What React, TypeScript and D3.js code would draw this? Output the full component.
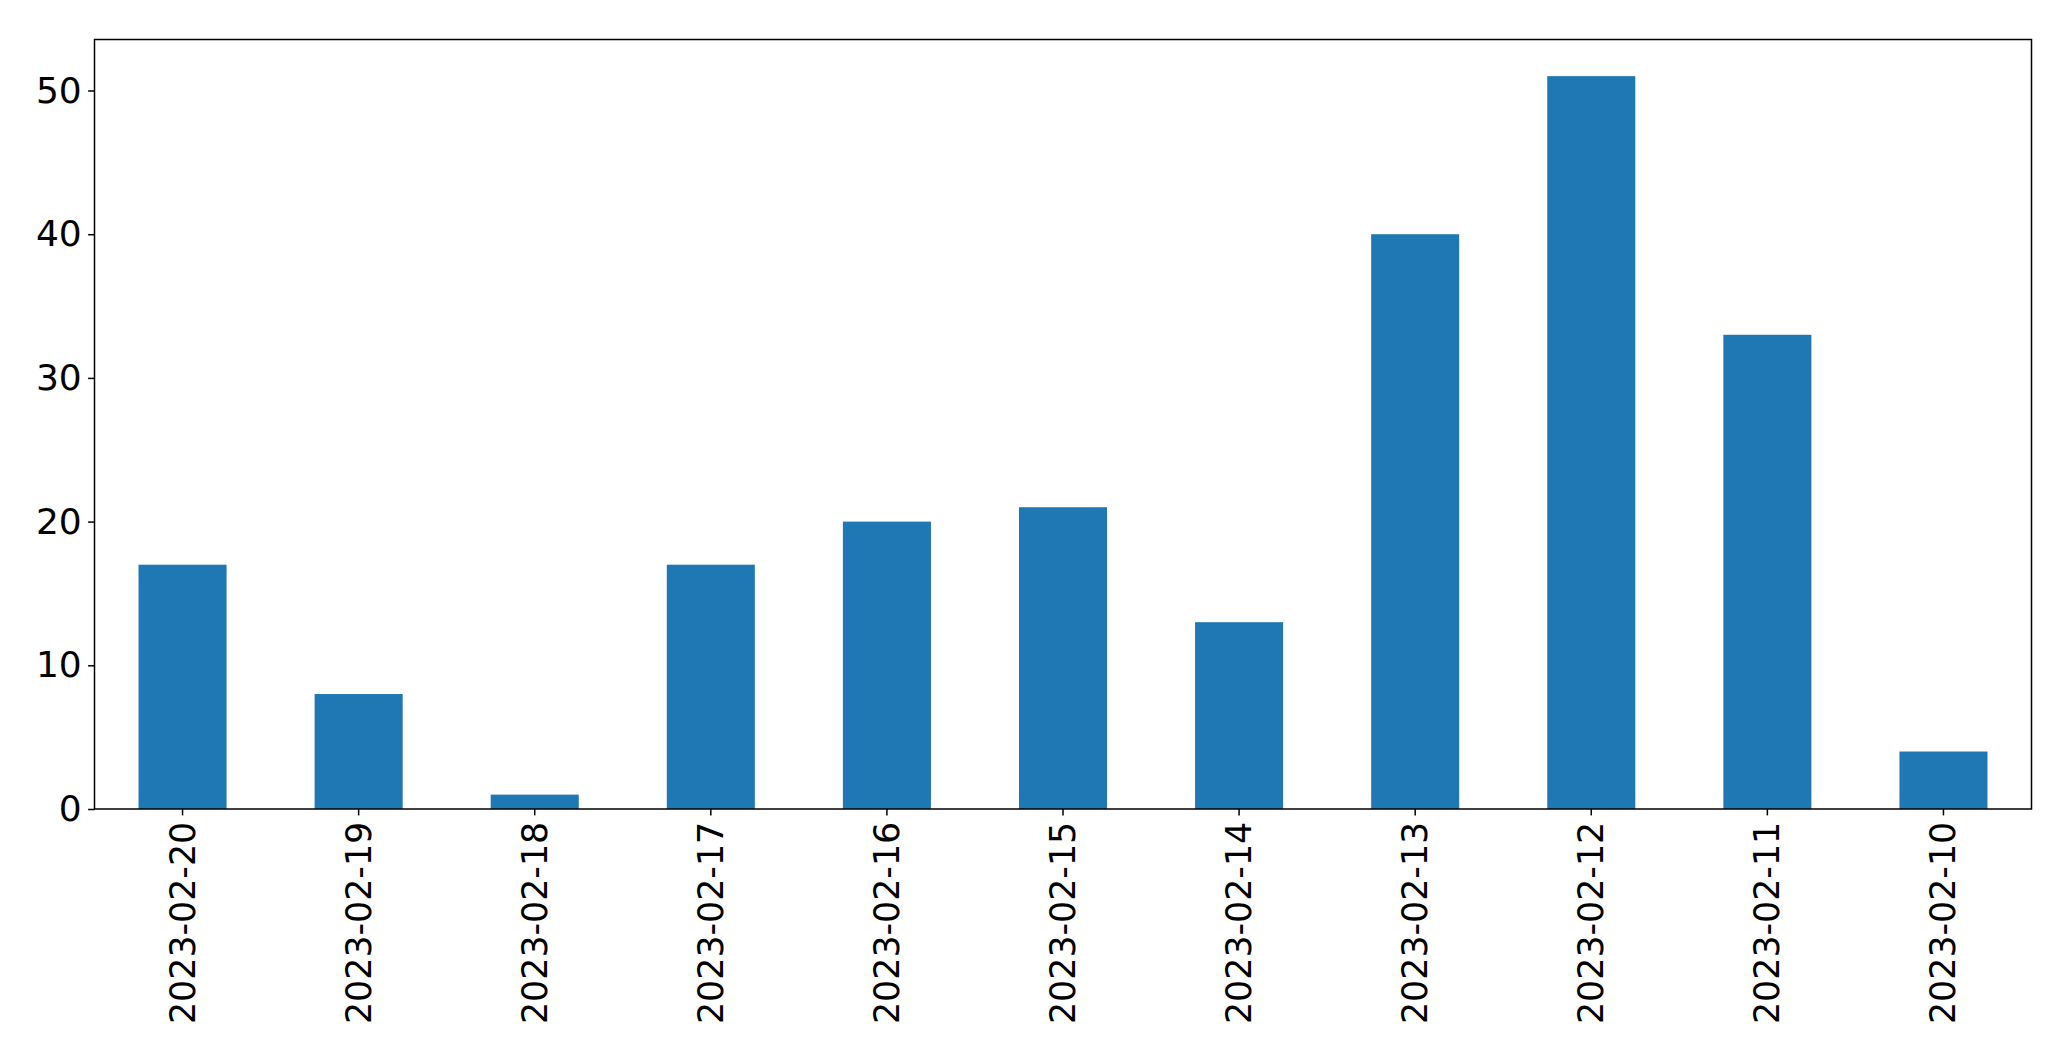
import { useEffect, useRef } from "react";
import * as d3 from "d3";

const dates = [
  "2023-02-20",
  "2023-02-19",
  "2023-02-18",
  "2023-02-17",
  "2023-02-16",
  "2023-02-15",
  "2023-02-14",
  "2023-02-13",
  "2023-02-12",
  "2023-02-11",
  "2023-02-10",
];
const counts = [17, 8, 1, 17, 20, 21, 13, 40, 51, 33, 4];
const yTicks = [0, 10, 20, 30, 40, 50];

const W = 2071;
const H = 1061;

export default function App() {
  const svgRef = useRef<SVGSVGElement>(null);

  useEffect(() => {
    if (!svgRef.current) return;
    const svg = d3.select(svgRef.current);
    svg.selectAll("*").remove();

    const margin = { top: 39.5, right: W - 2031.5, bottom: H - 809, left: 94.5 };
    const innerW = W - margin.left - margin.right;
    const innerH = H - margin.top - margin.bottom;
    const font = "'DejaVu Sans', sans-serif";
    const tickLen = 6.4;
    const pad = 6.4;

    const g = svg
      .append("g")
      .attr("transform", `translate(${margin.left},${margin.top})`);

    const x = d3
      .scaleBand<string>()
      .domain(dates)
      .range([0, innerW])
      .paddingInner(0.5)
      .paddingOuter(0.25);

    const yMax = d3.max(counts) ?? 1;
    const y = d3
      .scaleLinear()
      .domain([0, yMax * 1.05])
      .range([innerH, 0]);

    g.selectAll("rect.bar")
      .data(counts)
      .join("rect")
      .attr("class", "bar")
      .attr("x", (_, i) => x(dates[i]) ?? 0)
      .attr("width", x.bandwidth())
      .attr("y", (d) => y(d))
      .attr("height", (d) => y(0) - y(d))
      .attr("fill", "#1f77b4");

    // frame
    g.append("rect")
      .attr("width", innerW)
      .attr("height", innerH)
      .attr("fill", "none")
      .attr("stroke", "#000")
      .attr("stroke-width", 1.5);

    const yAxis = g
      .append("g")
      .call(
        d3
          .axisLeft(y)
          .tickValues(yTicks)
          .tickSize(tickLen)
          .tickPadding(pad)
          .tickFormat(d3.format("d"))
      );
    yAxis.select(".domain").remove();
    yAxis.selectAll("line").attr("stroke", "#000").attr("stroke-width", 1.5);
    yAxis
      .selectAll("text")
      .attr("font-family", font)
      .attr("font-size", 36)
      .attr("fill", "#000");

    const xAxis = g
      .append("g")
      .attr("transform", `translate(0,${innerH})`)
      .call(d3.axisBottom(x).tickSize(tickLen).tickPadding(pad));
    xAxis.select(".domain").remove();
    xAxis.selectAll("line").attr("stroke", "#000").attr("stroke-width", 1.5);
    xAxis
      .selectAll<SVGTextElement, string>("text")
      .attr("font-family", font)
      .attr("font-size", 34.8)
      .attr("fill", "#000")
      .attr("text-anchor", "end")
      .attr("dy", null)
      .attr("y", 0)
      .attr("dominant-baseline", "central")
      .attr("transform", `translate(0,${tickLen + pad}) rotate(-90)`);
  }, []);

  return (
    <svg
      ref={svgRef}
      width={W}
      height={H}
      style={{ position: "absolute", left: 0, top: 0, background: "#fff" }}
    />
  );
}
